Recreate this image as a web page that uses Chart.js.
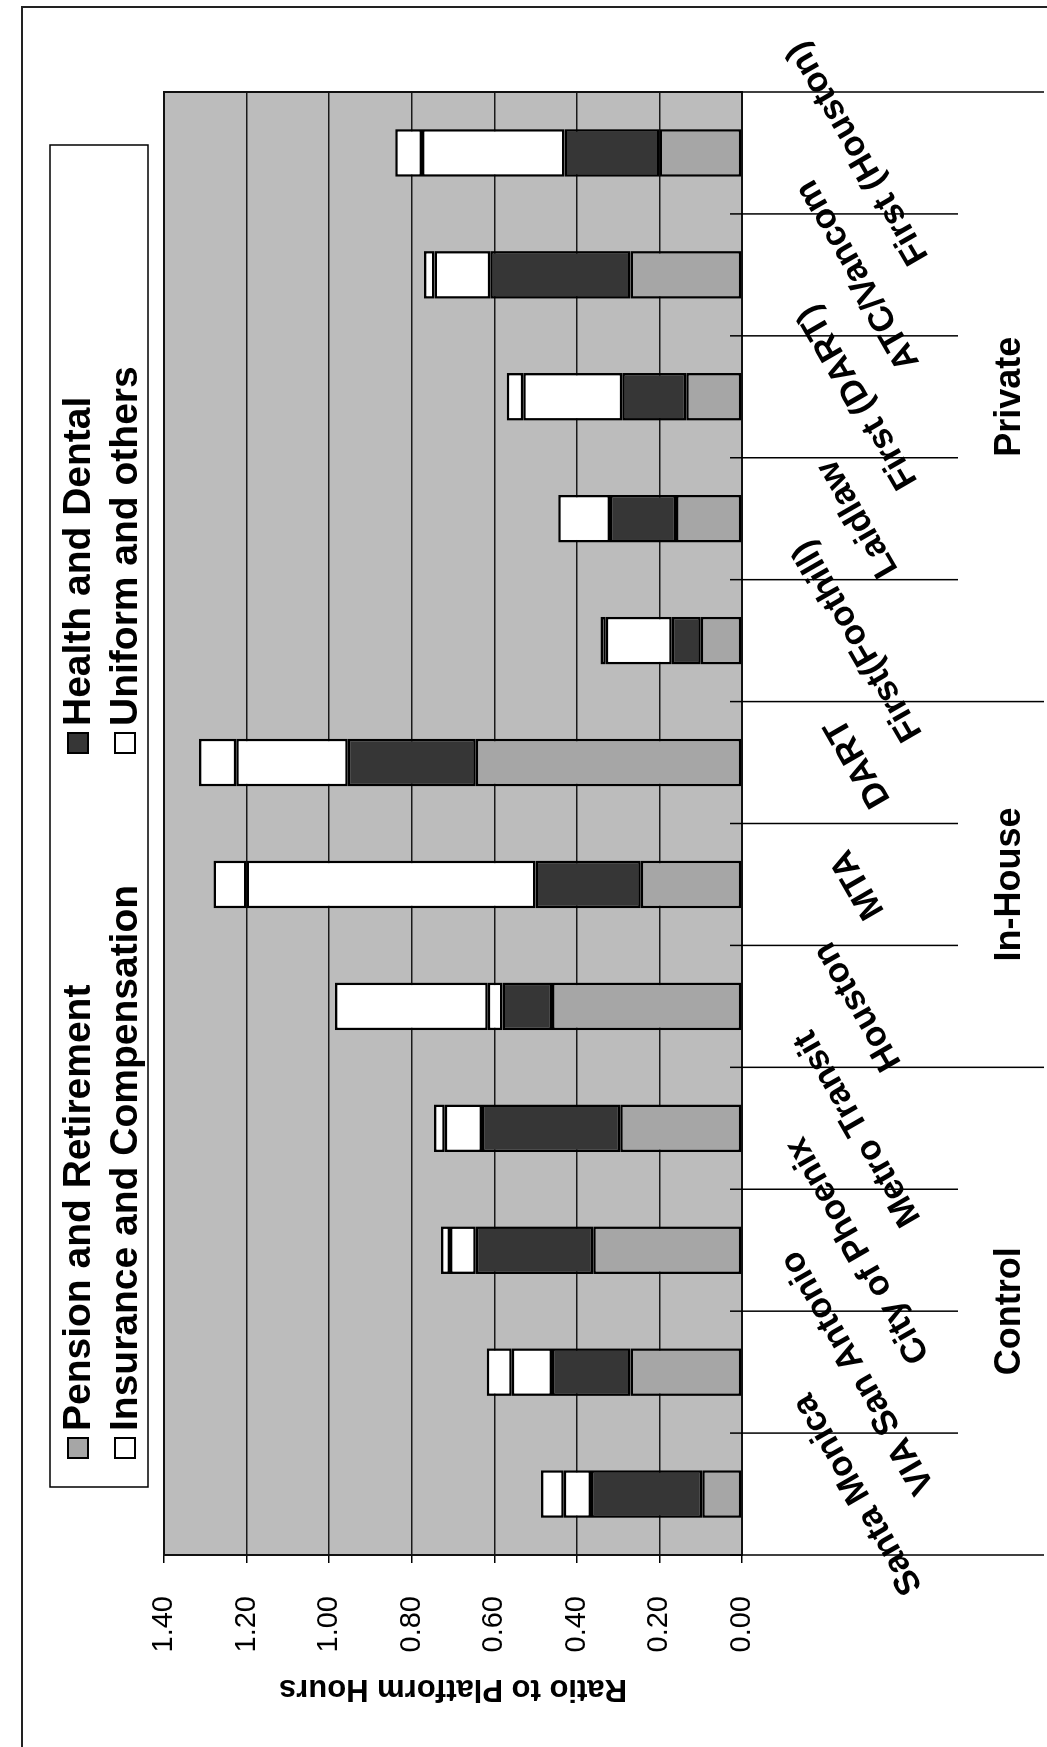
<!DOCTYPE html>
<html>
<head>
<meta charset="utf-8">
<script src="https://cdn.jsdelivr.net/npm/chart.js@4.4.0/dist/chart.umd.min.js"></script>
<style>
  html, body { margin: 0; padding: 0; background: #fff; overflow: hidden; }
  body { width: 1047px; height: 1747px; position: relative; }
  #frame { position: absolute; left: 21px; top: 6px; width: 1100px; height: 1800px;
           border-left: 2px solid #222; border-top: 2px solid #222; }
  /* the chart is built upright and then turned a quarter turn to the left */
  #turn { position: absolute; left: 0; top: 0; width: 1747px; height: 1047px;
          transform-origin: 0 0; transform: translate(0, 1747px) rotate(-90deg); }
</style>
</head>
<body>
<div id="frame"></div>
<div id="turn"><canvas id="cost-chart" width="1747" height="1047"></canvas></div>
<script>
const categories = ['Santa Monica', 'VIA San Antonio', 'City of Phoenix', 'Metro Transit',
    'Houston', 'MTA', 'DART',
    'First(Foothill)', 'Laidlaw', 'First (DART)', 'ATC/Vancom', 'First (Houston)'];
const groups = ['Control', 'In-House', 'Private'];
const groupSizes = [4, 3, 5];

const pension   = [0.096, 0.27, 0.36, 0.295, 0.46, 0.245, 0.645, 0.10, 0.16, 0.135, 0.27, 0.20];
const health    = [0.27, 0.19, 0.285, 0.335, 0.12, 0.255, 0.31, 0.07, 0.16, 0.155, 0.34, 0.23];
const insurance = [0.066, 0.098, 0.062, 0.09, 0.036, 0.70, 0.27, 0.16, 0.125, 0.24, 0.135, 0.345];
const uniform   = [0.055, 0.06, 0.022, 0.026, 0.37, 0.08, 0.09, 0.013, 0, 0.04, 0.025, 0.065];

const valueTicks = [0, 0.2, 0.4, 0.6, 0.8, 1.0, 1.2, 1.4];

const FONT = '"Liberation Sans", Arial, sans-serif';
const plotGray = '#bcbcbc';

const extras = {
    id: 'extras',
    beforeDraw(chart) {
        const {ctx, chartArea: a} = chart;
        ctx.save();
        ctx.fillStyle = plotGray;
        ctx.fillRect(a.left, a.top, a.right - a.left, a.bottom - a.top);
        ctx.restore();
    },
    afterDraw(chart) {
        const {ctx, chartArea: a} = chart;
        const x = chart.scales.x;
        const n = categories.length;
        const w = (x.right - x.left) / n;
        ctx.save();

        // plot outline
        ctx.strokeStyle = '#111';
        ctx.lineWidth = 2;
        ctx.strokeRect(a.left, a.top, a.right - a.left, a.bottom - a.top);

        // category tick marks, long ones between groups
        const longAt = [0];
        let acc = 0;
        groupSizes.forEach(s => { acc += s; longAt.push(acc); });
        ctx.lineWidth = 1.5;
        ctx.strokeStyle = '#000';
        for (let j = 0; j <= n; j++) {
            const px = x.left + j * w;
            const end = longAt.includes(j) ? 1044 : a.bottom + 216;
            ctx.beginPath();
            ctx.moveTo(px, a.bottom - 12);
            ctx.lineTo(px, end);
            ctx.stroke();
        }

        // category names, slanted
        ctx.fillStyle = '#000';
        ctx.font = 'bold 35px ' + FONT;
        ctx.textAlign = 'center';
        ctx.textBaseline = 'middle';
        categories.forEach((c, i) => {
            ctx.save();
            ctx.translate(x.getPixelForValue(i), a.bottom + 116);
            ctx.rotate(-30 * Math.PI / 180);
            ctx.fillText(c, 0, 0);
            ctx.restore();
        });

        // group names
        ctx.font = 'bold 36px ' + FONT;
        let start = 0;
        groups.forEach((g, k) => {
            const mid = x.left + (start + groupSizes[k] / 2) * w;
            ctx.fillText(g, mid, a.bottom + 268);
            start += groupSizes[k];
        });

        // legend box, two by two
        ctx.fillStyle = '#fff';
        ctx.fillRect(260, 50, 1342, 98);
        ctx.strokeStyle = '#000';
        ctx.lineWidth = 1.5;
        ctx.strokeRect(260, 50, 1342, 98);
        const colX = [289, 994];
        const rowY = [78, 125];
        ctx.font = 'bold 39px ' + FONT;
        ctx.textAlign = 'left';
        chart.data.datasets.forEach((ds, i) => {
            const cx = colX[i % 2], cy = rowY[Math.floor(i / 2)];
            ctx.fillStyle = ds.backgroundColor;
            ctx.fillRect(cx, cy - 10, 20, 20);
            ctx.strokeStyle = '#000';
            ctx.lineWidth = 2;
            ctx.strokeRect(cx, cy - 10, 20, 20);
            ctx.fillStyle = '#000';
            ctx.fillText(ds.label, cx + 27, cy + 1);
        });
        ctx.restore();
    }
};

const barStyle = {
    borderColor: '#000',
    borderWidth: 2.5,
    borderSkipped: false,
    categoryPercentage: 1,
    barPercentage: 0.39
};

new Chart(document.getElementById('cost-chart'), {
    type: 'bar',
    data: {
        labels: categories,
        datasets: [
            {label: 'Pension and Retirement', data: pension, backgroundColor: '#a6a6a6', ...barStyle},
            {label: 'Health and Dental', data: health, backgroundColor: '#363636', ...barStyle},
            {label: 'Insurance and Compensation', data: insurance, backgroundColor: '#ffffff', ...barStyle},
            {label: 'Uniform and others', data: uniform, backgroundColor: '#ffffff', ...barStyle}
        ]
    },
    options: {
        responsive: false,
        animation: false,
        layout: {padding: {top: 164, right: 92, left: 0, bottom: 0}},
        plugins: {
            legend: {display: false},
            tooltip: {enabled: false}
        },
        scales: {
            x: {
                stacked: true,
                ticks: {display: false},
                grid: {display: false},
                border: {display: false},
                afterFit(s) { s.height = 305; }
            },
            y: {
                stacked: true,
                min: 0,
                max: 1.4,
                afterBuildTicks(s) { s.ticks = valueTicks.map(v => ({value: v})); },
                ticks: {
                    callback: v => Number(v).toFixed(2),
                    color: '#000',
                    padding: 33,
                    font: {family: FONT, size: 29}
                },
                grid: {color: '#1a1a1a', lineWidth: 1.5, tickLength: 8, tickColor: '#000'},
                border: {display: false},
                title: {
                    display: true,
                    text: 'Ratio to Platform Hours',
                    color: '#000',
                    font: {family: FONT, size: 31, weight: 'bold'},
                    padding: {top: 40, bottom: 0}
                },
                afterFit(s) { s.width = 192; }
            }
        }
    },
    plugins: [extras]
});
</script>
</body>
</html>
